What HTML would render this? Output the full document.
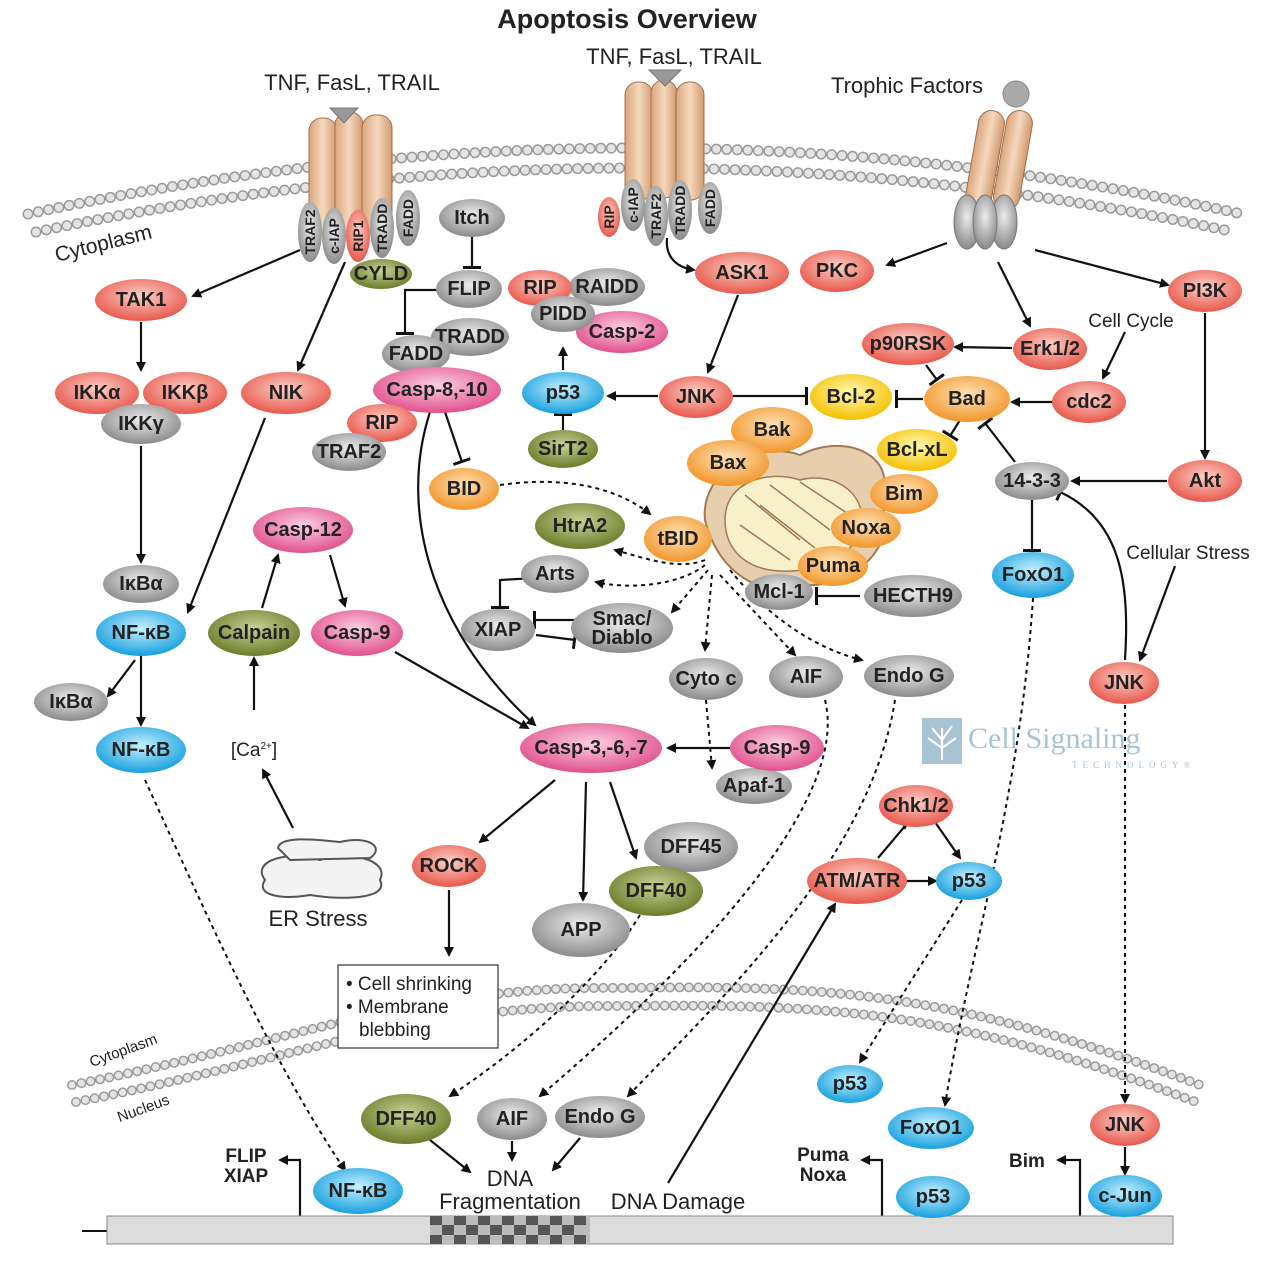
<!DOCTYPE html>
<html><head><meta charset="utf-8"><style>
html,body{margin:0;padding:0;background:#fff}
svg{display:block}
text{font-family:"Liberation Sans",Arial,sans-serif}
.n{font-weight:bold;font-size:20px;fill:#222;text-anchor:middle;dominant-baseline:central}
.s{font-weight:bold;font-size:14px;fill:#222;text-anchor:middle;dominant-baseline:central}
.l{font-size:22px;fill:#222;text-anchor:middle}
.a{stroke:#111;stroke-width:2.2;fill:none;marker-end:url(#ar)}
.d{stroke:#111;stroke-width:2;fill:none;stroke-dasharray:4 4;marker-end:url(#ar)}
.t{stroke:#111;stroke-width:2.2;fill:none;marker-end:url(#tb)}
</style></head><body>
<svg width="1271" height="1265" viewBox="0 0 1271 1265" xmlns="http://www.w3.org/2000/svg">
<defs>
<marker id="ar" markerWidth="10" markerHeight="10" refX="8" refY="5" orient="auto" markerUnits="userSpaceOnUse"><path d="M0,0 L10,5 L0,10 z" fill="#111"/></marker>
<marker id="tb" markerWidth="4" markerHeight="18" refX="2" refY="9" orient="auto" markerUnits="userSpaceOnUse"><rect x="0" y="0" width="3" height="18" fill="#111"/></marker>
<radialGradient id="r" cx="50%" cy="40%" r="60%"><stop offset="0" stop-color="#fcd0c8"/><stop offset="1" stop-color="#e8574b"/></radialGradient>
<radialGradient id="g" cx="50%" cy="40%" r="60%"><stop offset="0" stop-color="#ececec"/><stop offset="1" stop-color="#8a8a8a"/></radialGradient>
<radialGradient id="b" cx="50%" cy="40%" r="60%"><stop offset="0" stop-color="#c6f0ff"/><stop offset="1" stop-color="#17a0de"/></radialGradient>
<radialGradient id="o" cx="50%" cy="40%" r="60%"><stop offset="0" stop-color="#fde2b8"/><stop offset="1" stop-color="#f2962a"/></radialGradient>
<radialGradient id="y" cx="50%" cy="40%" r="60%"><stop offset="0" stop-color="#fff8b0"/><stop offset="1" stop-color="#f4c000"/></radialGradient>
<radialGradient id="v" cx="50%" cy="40%" r="60%"><stop offset="0" stop-color="#c8d296"/><stop offset="1" stop-color="#6b7c2a"/></radialGradient>
<radialGradient id="p" cx="50%" cy="40%" r="60%"><stop offset="0" stop-color="#fccfe2"/><stop offset="1" stop-color="#e0508c"/></radialGradient>
<linearGradient id="tan" x1="0" x2="1"><stop offset="0" stop-color="#d9a57c"/><stop offset=".5" stop-color="#f6d8bd"/><stop offset="1" stop-color="#d19a70"/></linearGradient>
</defs>

<text x="627" y="28" style="font-weight:bold;font-size:27px;fill:#222" text-anchor="middle">Apoptosis Overview</text>

<g fill="none" stroke-linecap="round">
<path d="M28,214 Q640,82 1242,214" stroke="#9a9a9a" stroke-width="11" stroke-dasharray="0 10.5"/>
<path d="M28,214 Q640,82 1242,214" stroke="#e4e4e4" stroke-width="8" stroke-dasharray="0 10.5"/>
<path d="M36,232 Q640,104 1234,232" stroke="#9a9a9a" stroke-width="11" stroke-dasharray="0 10.5"/>
<path d="M36,232 Q640,104 1234,232" stroke="#e4e4e4" stroke-width="8" stroke-dasharray="0 10.5"/>
</g>
<g fill="none" stroke-linecap="round">
<path d="M72,1085 C300,1040 420,985 620,988 C820,985 950,990 1200,1085" stroke="#9a9a9a" stroke-width="10" stroke-dasharray="0 9.5"/>
<path d="M72,1085 C300,1040 420,985 620,988 C820,985 950,990 1200,1085" stroke="#e4e4e4" stroke-width="7" stroke-dasharray="0 9.5"/>
<path d="M76,1102 C300,1058 420,1004 620,1006 C820,1004 950,1008 1196,1102" stroke="#9a9a9a" stroke-width="10" stroke-dasharray="0 9.5"/>
<path d="M76,1102 C300,1058 420,1004 620,1006 C820,1004 950,1008 1196,1102" stroke="#e4e4e4" stroke-width="7" stroke-dasharray="0 9.5"/>
</g>

<text x="105" y="250" transform="rotate(-14 105 250)" style="font-size:21px;fill:#222" text-anchor="middle">Cytoplasm</text>
<text x="125" y="1055" transform="rotate(-20 125 1055)" style="font-size:15px;fill:#222" text-anchor="middle">Cytoplasm</text>
<text x="145" y="1113" transform="rotate(-20 145 1113)" style="font-size:15px;fill:#222" text-anchor="middle">Nucleus</text>

<g stroke="#a0704a" stroke-width="1" fill="url(#tan)">
<rect x="309" y="118" width="28" height="115" rx="13"/>
<rect x="335" y="112" width="28" height="120" rx="13"/>
<rect x="362" y="115" width="30" height="118" rx="13"/>
<rect x="625" y="82" width="28" height="118" rx="13"/>
<rect x="651" y="80" width="26" height="118" rx="13"/>
<rect x="676" y="82" width="28" height="118" rx="13"/>
<rect x="972" y="110" width="26" height="100" rx="13" transform="rotate(10 985 160)"/>
<rect x="1000" y="110" width="26" height="100" rx="13" transform="rotate(10 1013 160)"/>
</g>
<path d="M330,108 L358,108 L344,123 z" fill="#999" stroke="#777"/>
<path d="M649,70 L681,70 L665,86 z" fill="#999" stroke="#777"/>
<circle cx="1016" cy="94" r="13" fill="#aaa" stroke="#888"/>
<ellipse cx="967" cy="222" rx="13" ry="27" fill="url(#g)" stroke="#777"/>
<ellipse cx="1004" cy="222" rx="13" ry="27" fill="url(#g)" stroke="#777"/>
<ellipse cx="985" cy="222" rx="12" ry="27" fill="url(#g)" stroke="#777"/>

<text x="352" y="90" class="l">TNF, FasL, TRAIL</text>
<text x="674" y="64" class="l">TNF, FasL, TRAIL</text>
<text x="907" y="93" class="l">Trophic Factors</text>
<text x="1131" y="327" style="font-size:19px;fill:#222" text-anchor="middle">Cell Cycle</text>
<text x="1188" y="559" style="font-size:19px;fill:#222" text-anchor="middle">Cellular Stress</text>

<g>
<ellipse cx="310" cy="232" rx="12" ry="30" fill="url(#g)"/><text class="s" transform="translate(310 232) rotate(-90)" x="0" y="0">TRAF2</text>
<ellipse cx="334" cy="236" rx="12" ry="28" fill="url(#g)"/><text class="s" transform="translate(334 236) rotate(-90)">c-IAP</text>
<ellipse cx="358" cy="236" rx="12" ry="26" fill="url(#r)"/><text class="s" transform="translate(358 236) rotate(-90)">RIP1</text>
<ellipse cx="382" cy="228" rx="12" ry="30" fill="url(#g)"/><text class="s" transform="translate(382 228) rotate(-90)">TRADD</text>
<ellipse cx="408" cy="218" rx="12" ry="28" fill="url(#g)"/><text class="s" transform="translate(408 218) rotate(-90)">FADD</text>
<ellipse cx="609" cy="217" rx="11" ry="20" fill="url(#r)"/><text class="s" transform="translate(609 217) rotate(-90)">RIP</text>
<ellipse cx="633" cy="205" rx="12" ry="26" fill="url(#g)"/><text class="s" transform="translate(633 205) rotate(-90)">c-IAP</text>
<ellipse cx="656" cy="216" rx="12" ry="30" fill="url(#g)"/><text class="s" transform="translate(656 216) rotate(-90)">TRAF2</text>
<ellipse cx="680" cy="210" rx="12" ry="30" fill="url(#g)"/><text class="s" transform="translate(680 210) rotate(-90)">TRADD</text>
<ellipse cx="710" cy="208" rx="12" ry="26" fill="url(#g)"/><text class="s" transform="translate(710 208) rotate(-90)">FADD</text>
</g>

<g>
<path d="M705,520 C700,470 760,440 800,455 C850,430 900,460 880,500 C900,540 860,585 810,585 C770,600 720,580 705,520 z" fill="#e7cfae" stroke="#a07a55" stroke-width="2"/>
<path d="M725,520 C725,480 770,470 800,480 C840,470 870,500 860,530 C850,565 800,575 770,570 C740,565 725,545 725,520 z" fill="#f8f0c8" stroke="#a07a55" stroke-width="1.5"/>
<g stroke="#a07a55" stroke-width="1.5" fill="none">
<path d="M745,495 L800,540"/><path d="M770,485 L830,530"/><path d="M800,482 L850,515"/><path d="M740,525 L790,560"/><path d="M760,505 L815,548"/>
</g>
</g>

<g fill="#fff" stroke="#555" stroke-width="2">
<path d="M265,880 C250,860 290,850 320,860 C350,850 390,860 380,880 C390,900 340,900 310,895 C280,900 255,895 265,880 z" fill="#f3f3f3"/>
<path d="M278,848 C280,835 320,840 340,842 C370,835 385,848 370,858 L290,860 z" fill="#f3f3f3"/>
</g>
<text x="318" y="926" class="l">ER Stress</text>
<text x="254" y="756" style="font-size:19px;fill:#222" text-anchor="middle">[Ca<tspan font-size="10" dy="-7">2+</tspan><tspan dy="7">]</tspan></text>

<g>
<path class="a" d="M300,250 L193,296"/>
<path class="a" d="M141,322 L141,370"/>
<path class="a" d="M141,446 L141,562"/>
<path class="a" d="M345,262 L298,370"/>
<path class="a" d="M265,418 L188,612"/>
<path class="a" d="M141,655 L141,725"/>
<path class="a" d="M135,660 L108,696"/>
<path class="a" d="M254,710 L254,658"/>
<path class="a" d="M293,828 L263,770"/>
<path class="a" d="M262,608 L278,555"/>
<path class="a" d="M330,555 L345,606"/>
<path class="a" d="M395,652 L528,728"/>
<path class="t" d="M472,237 L472,268"/>
<path class="t" d="M440,290 L405,290 L405,334"/>
<path class="a" d="M430,412 C395,520 440,640 535,725"/>
<path class="t" d="M445,412 L462,462"/>
<path class="d" d="M500,485 C570,475 620,490 650,514"/>
<path class="a" d="M563,370 L563,348"/>
<path class="t" d="M563,430 L563,414"/>
<path class="a" d="M658,396 L608,396"/>
<path class="t" d="M732,396 L807,396"/>
<path class="a" d="M667,238 C665,260 680,268 694,270"/>
<path class="a" d="M738,295 L708,372"/>
<path class="a" d="M947,243 L887,265"/>
<path class="a" d="M998,262 L1030,326"/>
<path class="a" d="M1035,250 L1168,285"/>
<path class="a" d="M1205,313 L1205,458"/>
<path class="a" d="M1012,348 L955,347"/>
<path class="t" d="M926,365 L937,380"/>
<path class="a" d="M1053,402 L1012,402"/>
<path class="a" d="M1125,332 L1103,378"/>
<path class="t" d="M923,399 L896,399"/>
<path class="t" d="M960,420 L950,436"/>
<path class="t" d="M1015,462 L985,423"/>
<path class="a" d="M1167,481 L1072,481"/>
<path class="t" d="M1032,500 L1032,551"/>
<path class="t" d="M1125,660 C1130,580 1120,520 1060,492"/>
<path class="a" d="M1175,566 L1140,660"/>
<path class="t" d="M860,596 L816,596"/>
<path class="t" d="M535,578 L500,580 L500,608"/>
<path class="t" d="M575,620 L534,620"/>
<path class="t" d="M536,635 L575,640"/>
<path class="d" d="M705,560 C680,570 650,560 615,550"/>
<path class="d" d="M705,565 C680,585 630,590 596,582"/>
<path class="d" d="M708,570 L672,612"/>
<path class="d" d="M712,575 L705,650"/>
<path class="d" d="M720,575 L795,655"/>
<path class="d" d="M730,570 C770,620 820,650 862,660"/>
<path class="d" d="M706,700 L712,768"/>
<path class="a" d="M730,748 L668,748"/>
<path class="a" d="M555,780 L480,842"/>
<path class="a" d="M586,782 L583,900"/>
<path class="a" d="M610,782 L636,858"/>
<path class="a" d="M449,890 L449,955"/>
<path class="a" d="M878,858 L905,826 L905,828"/>
<path class="a" d="M935,822 L960,858"/>
<path class="a" d="M906,881 L936,881"/>
<path class="a" d="M668,1183 L835,904"/>
<path class="d" d="M962,900 L860,1062"/>
<path class="d" d="M1033,598 C1020,800 970,950 945,1105"/>
<path class="d" d="M1125,705 L1125,1102"/>
<path class="a" d="M1125,1147 L1125,1174"/>
<path class="d" d="M145,780 C200,900 270,1060 345,1170"/>
<path class="d" d="M640,915 C600,980 520,1050 450,1096"/>
<path class="d" d="M825,700 C850,800 700,960 540,1096"/>
<path class="d" d="M895,700 C870,860 720,1000 628,1096"/>
<path class="a" d="M430,1140 L470,1172"/>
<path class="a" d="M512,1141 L512,1160"/>
<path class="a" d="M580,1138 L553,1170"/>
<path class="a" d="M300,1216 L300,1160 L280,1160"/>
<path class="a" d="M882,1216 L882,1160 L862,1160"/>
<path class="a" d="M1080,1216 L1080,1160 L1058,1160"/>
</g>

<rect x="338" y="965" width="160" height="83" fill="#fff" stroke="#333" stroke-width="1.2"/>
<text x="346" y="990" style="font-size:19px;fill:#222">• Cell shrinking</text>
<text x="346" y="1013" style="font-size:19px;fill:#222">• Membrane</text>
<text x="359" y="1036" style="font-size:19px;fill:#222">blebbing</text>

<line x1="82" y1="1231" x2="107" y2="1231" stroke="#111" stroke-width="2"/>
<rect x="107" y="1216" width="1066" height="28" fill="#dcdcdc" stroke="#888"/>
<g fill="#555">
<rect x="430" y="1216" width="160" height="28" fill="#bbb"/>
<rect x="430" y="1216" width="12" height="9"/><rect x="454" y="1216" width="12" height="9"/><rect x="478" y="1216" width="12" height="9"/><rect x="502" y="1216" width="12" height="9"/><rect x="526" y="1216" width="12" height="9"/><rect x="550" y="1216" width="12" height="9"/><rect x="574" y="1216" width="12" height="9"/>
<rect x="442" y="1225" width="12" height="10"/><rect x="466" y="1225" width="12" height="10"/><rect x="490" y="1225" width="12" height="10"/><rect x="514" y="1225" width="12" height="10"/><rect x="538" y="1225" width="12" height="10"/><rect x="562" y="1225" width="12" height="10"/>
<rect x="430" y="1235" width="12" height="9"/><rect x="454" y="1235" width="12" height="9"/><rect x="478" y="1235" width="12" height="9"/><rect x="502" y="1235" width="12" height="9"/><rect x="526" y="1235" width="12" height="9"/><rect x="550" y="1235" width="12" height="9"/><rect x="574" y="1235" width="12" height="9"/>
</g>

<rect x="922" y="718" width="40" height="46" fill="#a8c4d4"/>
<path d="M942,760 L942,728 M942,740 L932,728 M942,740 L952,726 M942,748 L928,738 M942,748 L956,738" stroke="#fff" stroke-width="2" fill="none"/>
<text x="968" y="748" style="font-family:'Liberation Serif',serif;font-size:30px;fill:#a8c4d4">Cell Signaling</text>
<text x="1072" y="768" style="font-family:'Liberation Serif',serif;font-size:9px;fill:#a8c4d4;letter-spacing:5px">TECHNOLOGY®</text>

<g stroke="none">
<ellipse cx="141" cy="300" rx="46" ry="21" fill="url(#r)"/><text class="n" x="141" y="300">TAK1</text>
<ellipse cx="97" cy="393" rx="42" ry="21" fill="url(#r)"/><text class="n" x="97" y="393">IKKα</text>
<ellipse cx="185" cy="393" rx="42" ry="21" fill="url(#r)"/><text class="n" x="185" y="393">IKKβ</text>
<ellipse cx="141" cy="424" rx="40" ry="20" fill="url(#g)"/><text class="n" x="141" y="424">IKKγ</text>
<ellipse cx="286" cy="393" rx="45" ry="21" fill="url(#r)"/><text class="n" x="286" y="393">NIK</text>
<ellipse cx="141" cy="584" rx="38" ry="19" fill="url(#g)"/><text class="n" x="141" y="584">IκBα</text>
<ellipse cx="141" cy="633" rx="45" ry="23" fill="url(#b)"/><text class="n" x="141" y="633">NF-κB</text>
<ellipse cx="71" cy="702" rx="37" ry="19" fill="url(#g)"/><text class="n" x="71" y="702">IκBα</text>
<ellipse cx="141" cy="750" rx="45" ry="23" fill="url(#b)"/><text class="n" x="141" y="750">NF-κB</text>
<ellipse cx="254" cy="633" rx="46" ry="23" fill="url(#v)"/><text class="n" x="254" y="633">Calpain</text>
<ellipse cx="303" cy="530" rx="50" ry="23" fill="url(#p)"/><text class="n" x="303" y="530">Casp-12</text>
<ellipse cx="357" cy="633" rx="46" ry="23" fill="url(#p)"/><text class="n" x="357" y="633">Casp-9</text>
<ellipse cx="381" cy="274" rx="31" ry="15" fill="url(#v)"/><text class="n" x="381" y="274">CYLD</text>
<ellipse cx="472" cy="218" rx="33" ry="19" fill="url(#g)"/><text class="n" x="472" y="218">Itch</text>
<ellipse cx="469" cy="289" rx="33" ry="19" fill="url(#g)"/><text class="n" x="469" y="289">FLIP</text>
<ellipse cx="470" cy="337" rx="39" ry="19" fill="url(#g)"/><text class="n" x="470" y="337">TRADD</text>
<ellipse cx="416" cy="354" rx="34" ry="19" fill="url(#g)"/><text class="n" x="416" y="354">FADD</text>
<ellipse cx="437" cy="390" rx="64" ry="23" fill="url(#p)"/><text class="n" x="437" y="390">Casp-8,-10</text>
<ellipse cx="382" cy="423" rx="35" ry="19" fill="url(#r)"/><text class="n" x="382" y="423">RIP</text>
<ellipse cx="349" cy="452" rx="37" ry="19" fill="url(#g)"/><text class="n" x="349" y="452">TRAF2</text>
<ellipse cx="464" cy="489" rx="35" ry="21" fill="url(#o)"/><text class="n" x="464" y="489">BID</text>
<ellipse cx="607" cy="287" rx="38" ry="19" fill="url(#g)"/><text class="n" x="607" y="287">RAIDD</text>
<ellipse cx="540" cy="288" rx="32" ry="18" fill="url(#r)"/><text class="n" x="540" y="288">RIP</text>
<ellipse cx="622" cy="332" rx="46" ry="21" fill="url(#p)"/><text class="n" x="622" y="332">Casp-2</text>
<ellipse cx="563" cy="314" rx="32" ry="18" fill="url(#g)"/><text class="n" x="563" y="314">PIDD</text>
<ellipse cx="563" cy="393" rx="41" ry="21" fill="url(#b)"/><text class="n" x="563" y="393">p53</text>
<ellipse cx="563" cy="449" rx="35" ry="19" fill="url(#v)"/><text class="n" x="563" y="449">SirT2</text>
<ellipse cx="742" cy="273" rx="47" ry="21" fill="url(#r)"/><text class="n" x="742" y="273">ASK1</text>
<ellipse cx="837" cy="271" rx="37" ry="21" fill="url(#r)"/><text class="n" x="837" y="271">PKC</text>
<ellipse cx="696" cy="397" rx="37" ry="21" fill="url(#r)"/><text class="n" x="696" y="397">JNK</text>
<ellipse cx="851" cy="397" rx="41" ry="23" fill="url(#y)"/><text class="n" x="851" y="397">Bcl-2</text>
<ellipse cx="967" cy="399" rx="43" ry="23" fill="url(#o)"/><text class="n" x="967" y="399">Bad</text>
<ellipse cx="908" cy="344" rx="46" ry="21" fill="url(#r)"/><text class="n" x="908" y="344">p90RSK</text>
<ellipse cx="1050" cy="349" rx="37" ry="21" fill="url(#r)"/><text class="n" x="1050" y="349">Erk1/2</text>
<ellipse cx="1089" cy="402" rx="37" ry="21" fill="url(#r)"/><text class="n" x="1089" y="402">cdc2</text>
<ellipse cx="1205" cy="291" rx="37" ry="21" fill="url(#r)"/><text class="n" x="1205" y="291">PI3K</text>
<ellipse cx="1205" cy="481" rx="37" ry="21" fill="url(#r)"/><text class="n" x="1205" y="481">Akt</text>
<ellipse cx="1032" cy="481" rx="37" ry="19" fill="url(#g)"/><text class="n" x="1032" y="481">14-3-3</text>
<ellipse cx="772" cy="430" rx="41" ry="23" fill="url(#o)"/><text class="n" x="772" y="430">Bak</text>
<ellipse cx="728" cy="463" rx="41" ry="23" fill="url(#o)"/><text class="n" x="728" y="463">Bax</text>
<ellipse cx="917" cy="450" rx="40" ry="21" fill="url(#y)"/><text class="n" x="917" y="450">Bcl-xL</text>
<ellipse cx="904" cy="494" rx="34" ry="20" fill="url(#o)"/><text class="n" x="904" y="494">Bim</text>
<ellipse cx="866" cy="528" rx="35" ry="20" fill="url(#o)"/><text class="n" x="866" y="528">Noxa</text>
<ellipse cx="833" cy="566" rx="35" ry="20" fill="url(#o)"/><text class="n" x="833" y="566">Puma</text>
<ellipse cx="678" cy="539" rx="34" ry="23" fill="url(#o)"/><text class="n" x="678" y="539">tBID</text>
<ellipse cx="580" cy="526" rx="45" ry="23" fill="url(#v)"/><text class="n" x="580" y="526">HtrA2</text>
<ellipse cx="555" cy="574" rx="34" ry="19" fill="url(#g)"/><text class="n" x="555" y="574">Arts</text>
<ellipse cx="498" cy="630" rx="37" ry="21" fill="url(#g)"/><text class="n" x="498" y="630">XIAP</text>
<ellipse cx="622" cy="628" rx="51" ry="25" fill="url(#g)"/><text class="n" x="622" y="619">Smac/</text><text class="n" x="622" y="638">Diablo</text>
<ellipse cx="779" cy="592" rx="34" ry="18" fill="url(#g)"/><text class="n" x="779" y="592">Mcl-1</text>
<ellipse cx="913" cy="596" rx="49" ry="21" fill="url(#g)"/><text class="n" x="913" y="596">HECTH9</text>
<ellipse cx="706" cy="679" rx="37" ry="21" fill="url(#g)"/><text class="n" x="706" y="679">Cyto c</text>
<ellipse cx="806" cy="677" rx="37" ry="21" fill="url(#g)"/><text class="n" x="806" y="677">AIF</text>
<ellipse cx="909" cy="676" rx="45" ry="21" fill="url(#g)"/><text class="n" x="909" y="676">Endo G</text>
<ellipse cx="1033" cy="575" rx="41" ry="23" fill="url(#b)"/><text class="n" x="1033" y="575">FoxO1</text>
<ellipse cx="1124" cy="683" rx="35" ry="21" fill="url(#r)"/><text class="n" x="1124" y="683">JNK</text>
<ellipse cx="591" cy="748" rx="71" ry="25" fill="url(#p)"/><text class="n" x="591" y="748">Casp-3,-6,-7</text>
<ellipse cx="754" cy="786" rx="38" ry="18" fill="url(#g)"/><text class="n" x="754" y="786">Apaf-1</text>
<ellipse cx="777" cy="748" rx="47" ry="23" fill="url(#p)"/><text class="n" x="777" y="748">Casp-9</text>
<ellipse cx="449" cy="866" rx="37" ry="21" fill="url(#r)"/><text class="n" x="449" y="866">ROCK</text>
<ellipse cx="691" cy="847" rx="47" ry="25" fill="url(#g)"/><text class="n" x="691" y="847">DFF45</text>
<ellipse cx="656" cy="891" rx="47" ry="25" fill="url(#v)"/><text class="n" x="656" y="891">DFF40</text>
<ellipse cx="581" cy="930" rx="49" ry="27" fill="url(#g)"/><text class="n" x="581" y="930">APP</text>
<ellipse cx="916" cy="806" rx="37" ry="21" fill="url(#r)"/><text class="n" x="916" y="806">Chk1/2</text>
<ellipse cx="857" cy="881" rx="50" ry="23" fill="url(#r)"/><text class="n" x="857" y="881">ATM/ATR</text>
<ellipse cx="969" cy="881" rx="33" ry="19" fill="url(#b)"/><text class="n" x="969" y="881">p53</text>
<ellipse cx="850" cy="1084" rx="33" ry="19" fill="url(#b)"/><text class="n" x="850" y="1084">p53</text>
<ellipse cx="931" cy="1128" rx="43" ry="21" fill="url(#b)"/><text class="n" x="931" y="1128">FoxO1</text>
<ellipse cx="1125" cy="1125" rx="35" ry="21" fill="url(#r)"/><text class="n" x="1125" y="1125">JNK</text>
<ellipse cx="1125" cy="1196" rx="37" ry="21" fill="url(#b)"/><text class="n" x="1125" y="1196">c-Jun</text>
<ellipse cx="933" cy="1197" rx="37" ry="21" fill="url(#b)"/><text class="n" x="933" y="1197">p53</text>
<ellipse cx="358" cy="1191" rx="45" ry="23" fill="url(#b)"/><text class="n" x="358" y="1191">NF-κB</text>
<ellipse cx="406" cy="1119" rx="45" ry="25" fill="url(#v)"/><text class="n" x="406" y="1119">DFF40</text>
<ellipse cx="512" cy="1119" rx="35" ry="21" fill="url(#g)"/><text class="n" x="512" y="1119">AIF</text>
<ellipse cx="600" cy="1117" rx="45" ry="21" fill="url(#g)"/><text class="n" x="600" y="1117">Endo G</text>
</g>

<text x="510" y="1186" class="l">DNA</text>
<text x="510" y="1209" class="l">Fragmentation</text>
<text x="678" y="1209" class="l">DNA Damage</text>
<text x="246" y="1162" style="font-weight:bold;font-size:19px;fill:#222" text-anchor="middle">FLIP</text>
<text x="246" y="1182" style="font-weight:bold;font-size:19px;fill:#222" text-anchor="middle">XIAP</text>
<text x="823" y="1161" style="font-weight:bold;font-size:19px;fill:#222" text-anchor="middle">Puma</text>
<text x="823" y="1181" style="font-weight:bold;font-size:19px;fill:#222" text-anchor="middle">Noxa</text>
<text x="1027" y="1167" style="font-weight:bold;font-size:19px;fill:#222" text-anchor="middle">Bim</text>
</svg>
</body></html>
